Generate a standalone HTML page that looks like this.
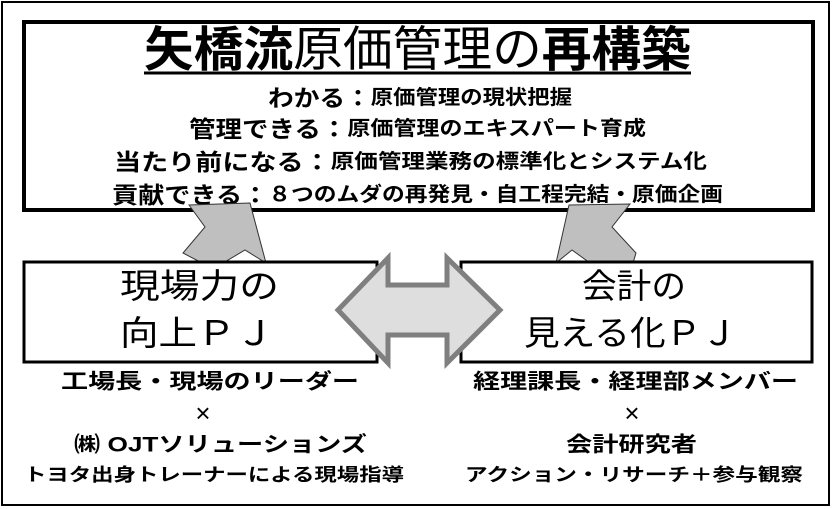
<!DOCTYPE html>
<html><head><meta charset="utf-8"><style>
html,body{margin:0;padding:0;background:#fff;}
svg{display:block;}
text{font-family:"Liberation Sans","Noto Sans CJK JP",sans-serif;fill:#000;}
</style></head><body>
<svg width="832" height="509" viewBox="0 0 832 509" xmlns="http://www.w3.org/2000/svg">
<rect x="2" y="2" width="827" height="503" fill="#fff" stroke="#000" stroke-width="2"/>
<rect x="24" y="22" width="789" height="188" fill="#fff" stroke="#000" stroke-width="4"/>
<text x="144" y="50" dominant-baseline="central" font-size="48" textLength="547" lengthAdjust="spacingAndGlyphs"><tspan font-weight="bold">矢橋流</tspan>原価管理の<tspan font-weight="bold">再構築</tspan></text>
<line x1="144" y1="73" x2="691" y2="73" stroke="#000" stroke-width="3"/>
<g font-weight="bold" dominant-baseline="central">
<text x="268" y="98" font-size="23" textLength="304" lengthAdjust="spacingAndGlyphs">わかる：<tspan font-size="20">原価管理の現状把握</tspan></text>
<text x="189" y="129" font-size="23" textLength="457" lengthAdjust="spacingAndGlyphs">管理できる：<tspan font-size="20">原価管理のエキスパート育成</tspan></text>
<text x="114" y="162" font-size="23" textLength="593" lengthAdjust="spacingAndGlyphs">当たり前になる：<tspan font-size="20">原価管理業務の標準化とシステム化</tspan></text>
<text x="112" y="195" font-size="23" textLength="611" lengthAdjust="spacingAndGlyphs">貢献できる：<tspan font-size="20">８つのムダの再発見・自工程完結・原価企画</tspan></text>
</g>
<polygon points="189,205 250,203 266,263 245,250 223,263 202,263 183,253 205,227" fill="#bfbfbf" stroke="#333" stroke-width="1"/>
<polygon points="569,205 630,204 612,227 636,253 633,263 590,263 572,250 556,263" fill="#bfbfbf" stroke="#333" stroke-width="1"/>
<rect x="24" y="262" width="353" height="100" fill="#fff" stroke="#000" stroke-width="3"/>
<rect x="461" y="262" width="351" height="100" fill="#fff" stroke="#000" stroke-width="3"/>
<polygon points="338,310 388,258 388,285 447,285 447,258 500,310 447,363 447,335 388,335 388,363" fill="#dedede" stroke="#7f7f7f" stroke-width="5" stroke-linejoin="miter"/>
<g dominant-baseline="central" font-size="34">
<text x="120" y="287" textLength="159" lengthAdjust="spacingAndGlyphs">現場力の</text>
<text x="120" y="334" textLength="154" lengthAdjust="spacingAndGlyphs">向上ＰＪ</text>
<text x="582" y="287" textLength="104" lengthAdjust="spacingAndGlyphs">会計の</text>
<text x="524" y="334" textLength="213" lengthAdjust="spacingAndGlyphs">見える化ＰＪ</text>
</g>
<g font-weight="bold" dominant-baseline="central">
<text x="61" y="382" font-size="21" textLength="298" lengthAdjust="spacingAndGlyphs">工場長・現場のリーダー</text>
<text x="203" y="413" font-size="26" font-weight="normal" text-anchor="middle">×</text>
<text x="74" y="445" font-size="21" textLength="293" lengthAdjust="spacingAndGlyphs">㈱ OJTソリューションズ</text>
<text x="24" y="475" font-size="18" textLength="380" lengthAdjust="spacingAndGlyphs">トヨタ出身トレーナーによる現場指導</text>
<text x="473" y="382" font-size="21" textLength="325" lengthAdjust="spacingAndGlyphs">経理課長・経理部メンバー</text>
<text x="632" y="413" font-size="26" font-weight="normal" text-anchor="middle">×</text>
<text x="566" y="445" font-size="21" textLength="131" lengthAdjust="spacingAndGlyphs">会計研究者</text>
<text x="465" y="475" font-size="18" textLength="338" lengthAdjust="spacingAndGlyphs">アクション・リサーチ＋参与観察</text>
</g>
</svg>
</body></html>
